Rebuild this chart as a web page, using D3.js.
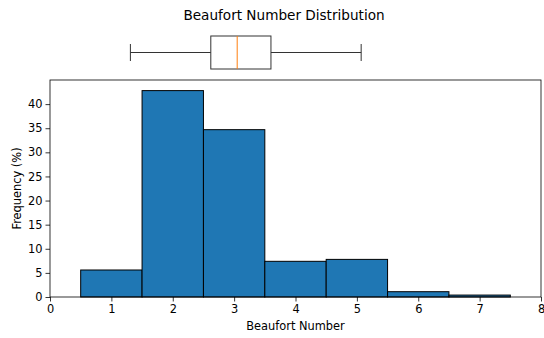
<!DOCTYPE html>
<html>
<head>
<meta charset="utf-8">
<script src="https://cdn.jsdelivr.net/npm/d3@7"></script>
<style>
  html, body { margin: 0; padding: 0; background: #fff; }
  svg { display: block; font-family: "DejaVu Sans", sans-serif; }
</style>
</head>
<body>
<svg id="chart" width="544" height="338"></svg>
<script>
// Histogram bins (Beaufort number centres) and their share of observations, %
const beaufort = [1, 2, 3, 4, 5, 6, 7];
const frequency = [5.6, 42.8, 34.7, 7.4, 7.8, 1.1, 0.4];

// Box-plot summary of the same data
const boxStats = { whiskerLow: 1.31, q1: 2.62, median: 3.05, q3: 3.6, whiskerHigh: 5.07 };

const xTicks = [0, 1, 2, 3, 4, 5, 6, 7, 8];
const yTicks = [0, 5, 10, 15, 20, 25, 30, 35, 40];

const svg = d3.select("#chart");
const plot = { left: 50, right: 541, top: 80, bottom: 297 };

const x = d3.scaleLinear().domain([0, 8]).range([plot.left, plot.right]);
const y = d3.scaleLinear().domain([0, 45]).range([plot.bottom, plot.top]);

// Title
svg.append("text")
  .attr("x", 284).attr("y", 20)
  .attr("text-anchor", "middle")
  .attr("font-size", 13.6)
  .attr("fill", "#000")
  .text("Beaufort Number Distribution");

// Horizontal box plot above the histogram
const boxY0 = 36, boxY1 = 69, boxMid = (boxY0 + boxY1) / 2;
const capHalf = 8.5;
const bp = svg.append("g").attr("stroke", "#333").attr("stroke-width", 1).attr("fill", "none");
bp.append("line").attr("x1", x(boxStats.whiskerLow)).attr("x2", x(boxStats.q1)).attr("y1", boxMid).attr("y2", boxMid);
bp.append("line").attr("x1", x(boxStats.q3)).attr("x2", x(boxStats.whiskerHigh)).attr("y1", boxMid).attr("y2", boxMid);
bp.append("line").attr("x1", x(boxStats.whiskerLow)).attr("x2", x(boxStats.whiskerLow)).attr("y1", boxMid - capHalf).attr("y2", boxMid + capHalf);
bp.append("line").attr("x1", x(boxStats.whiskerHigh)).attr("x2", x(boxStats.whiskerHigh)).attr("y1", boxMid - capHalf).attr("y2", boxMid + capHalf);
bp.append("rect")
  .attr("x", x(boxStats.q1)).attr("y", boxY0)
  .attr("width", x(boxStats.q3) - x(boxStats.q1)).attr("height", boxY1 - boxY0);
svg.append("line")
  .attr("x1", x(boxStats.median)).attr("x2", x(boxStats.median))
  .attr("y1", boxY0).attr("y2", boxY1)
  .attr("stroke", "#ff7f0e").attr("stroke-width", 1);

// Histogram bars, each one unit wide centred on its Beaufort number
svg.append("g").selectAll("rect")
  .data(beaufort.map((b, i) => ({ b, f: frequency[i] })))
  .join("rect")
  .attr("x", d => x(d.b - 0.5))
  .attr("y", d => y(d.f))
  .attr("width", d => x(d.b + 0.5) - x(d.b - 0.5))
  .attr("height", d => y(0) - y(d.f))
  .attr("fill", "#1f77b4")
  .attr("stroke", "#000")
  .attr("stroke-width", 1);

// Axes
const xAxis = svg.append("g")
  .attr("transform", `translate(0,${plot.bottom})`)
  .call(d3.axisBottom(x).tickValues(xTicks).tickSize(4.5).tickSizeOuter(0).tickPadding(3));
const yAxis = svg.append("g")
  .attr("transform", `translate(${plot.left},0)`)
  .call(d3.axisLeft(y).tickValues(yTicks).tickSize(4.5).tickSizeOuter(0).tickPadding(3));

[xAxis, yAxis].forEach(g => {
  g.select(".domain").remove();
  g.selectAll("text").attr("font-size", 11.4).attr("fill", "#000").attr("font-family", "DejaVu Sans, sans-serif");
  g.selectAll("line").attr("stroke", "#000").attr("stroke-width", 0.8);
});

// Frame around the histogram
svg.append("rect")
  .attr("x", plot.left).attr("y", plot.top)
  .attr("width", plot.right - plot.left).attr("height", plot.bottom - plot.top)
  .attr("fill", "none").attr("stroke", "#000").attr("stroke-width", 0.8);

// Axis labels
svg.append("text")
  .attr("x", (plot.left + plot.right) / 2).attr("y", 330)
  .attr("text-anchor", "middle").attr("font-size", 11.4).attr("fill", "#000")
  .text("Beaufort Number");
svg.append("text")
  .attr("transform", `translate(21,${(plot.top + plot.bottom) / 2}) rotate(-90)`)
  .attr("text-anchor", "middle").attr("font-size", 11.4).attr("fill", "#000")
  .text("Frequency (%)");
</script>
</body>
</html>
